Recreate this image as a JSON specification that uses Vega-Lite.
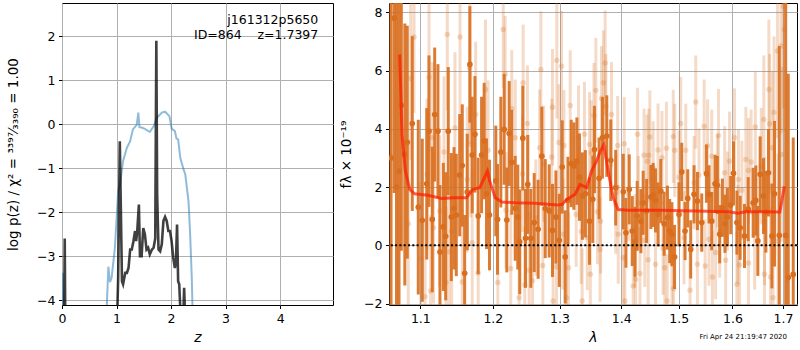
{
"$schema": "https://vega.github.io/schema/vega-lite/v6.json",
"background": "white",
"padding": {"left": 6, "top": 2, "right": 1, "bottom": 0},
"spacing": 5,
"config": {
 "view": {"stroke": "black", "strokeWidth": 1},
 "font": "DejaVu Sans",
 "axis": {"domain": false, "grid": true, "gridColor": "#b0b0b0", "gridWidth": 1, "gridOpacity": 1, "tickColor": "black", "tickSize": 3.5, "tickWidth": 1, "labelFontSize": 12.5, "labelColor": "black", "labelFont": "DejaVu Sans", "titleFont": "DejaVu Sans", "titleFontWeight": "normal", "titleColor": "black", "labelPadding": 3.5, "labelFlush": false, "labelOverlap": false}
},
"datasets": {
 "pz": [
  {"z":0.0,"lp":-4.5,"s":"a"},{"z":0.02,"lp":-3.38,"s":"a"},{"z":0.04,"lp":-4.5,"s":"a"},
  {"z":0.81,"lp":-4.5,"s":"b"},{"z":0.85,"lp":-3.24,"s":"b"},{"z":0.88,"lp":-3.59,"s":"b"},{"z":0.91,"lp":-3.49,"s":"b"},{"z":0.97,"lp":-2.81,"s":"b"},{"z":1.03,"lp":-1.52,"s":"b"},{"z":1.06,"lp":-1.41,"s":"b"},{"z":1.12,"lp":-0.84,"s":"b"},{"z":1.19,"lp":-0.54,"s":"b"},{"z":1.25,"lp":-0.39,"s":"b"},{"z":1.30,"lp":-0.12,"s":"b"},{"z":1.37,"lp":-0.02,"s":"b"},{"z":1.40,"lp":0.26,"s":"b"},{"z":1.42,"lp":-0.07,"s":"b"},{"z":1.46,"lp":-0.08,"s":"b"},{"z":1.52,"lp":-0.11,"s":"b"},{"z":1.61,"lp":-0.18,"s":"b"},{"z":1.68,"lp":-0.05,"s":"b"},{"z":1.74,"lp":0.14,"s":"b"},{"z":1.83,"lp":0.26,"s":"b"},{"z":1.89,"lp":0.28,"s":"b"},{"z":1.97,"lp":0.18,"s":"b"},{"z":2.01,"lp":-0.10,"s":"b"},{"z":2.07,"lp":-0.16,"s":"b"},{"z":2.10,"lp":-0.33,"s":"b"},{"z":2.13,"lp":-0.35,"s":"b"},{"z":2.17,"lp":-0.77,"s":"b"},{"z":2.23,"lp":-1.03,"s":"b"},{"z":2.26,"lp":-1.14,"s":"b"},{"z":2.32,"lp":-1.75,"s":"b"},{"z":2.35,"lp":-2.5,"s":"b"},{"z":2.38,"lp":-3.49,"s":"b"},{"z":2.40,"lp":-4.5,"s":"b"}
 ],
 "chi": [
  {"z":0.04,"lp":-4.5,"s":"a"},{"z":0.05,"lp":-2.6,"s":"a"},{"z":0.06,"lp":-4.5,"s":"a"},
  {"z":1.01,"lp":-4.5,"s":"b"},{"z":1.03,"lp":-3.49,"s":"b"},{"z":1.06,"lp":-0.39,"s":"b"},{"z":1.10,"lp":-3.57,"s":"b"},{"z":1.12,"lp":-3.64,"s":"b"},{"z":1.16,"lp":-3.38,"s":"b"},{"z":1.19,"lp":-3.38,"s":"b"},{"z":1.22,"lp":-3.27,"s":"b"},{"z":1.25,"lp":-2.85,"s":"b"},{"z":1.28,"lp":-2.85,"s":"b"},{"z":1.31,"lp":-2.66,"s":"b"},{"z":1.34,"lp":-2.43,"s":"b"},{"z":1.36,"lp":-2.66,"s":"b"},{"z":1.38,"lp":-2.43,"s":"b"},{"z":1.41,"lp":-1.83,"s":"b"},{"z":1.43,"lp":-3.0,"s":"b"},{"z":1.46,"lp":-3.0,"s":"b"},{"z":1.49,"lp":-2.36,"s":"b"},{"z":1.52,"lp":-2.5,"s":"b"},{"z":1.55,"lp":-2.85,"s":"b"},{"z":1.58,"lp":-2.81,"s":"b"},{"z":1.61,"lp":-2.96,"s":"b"},{"z":1.65,"lp":-2.85,"s":"b"},{"z":1.68,"lp":-2.81,"s":"b"},{"z":1.71,"lp":-2.6,"s":"b"},{"z":1.73,"lp":1.89,"s":"b"},{"z":1.745,"lp":-1.6,"s":"b"},{"z":1.77,"lp":-2.85,"s":"b"},{"z":1.80,"lp":-2.89,"s":"b"},{"z":1.83,"lp":-2.73,"s":"b"},{"z":1.86,"lp":-2.2,"s":"b"},{"z":1.89,"lp":-2.11,"s":"b"},{"z":1.92,"lp":-2.2,"s":"b"},{"z":1.95,"lp":-2.43,"s":"b"},{"z":1.98,"lp":-2.43,"s":"b"},{"z":2.01,"lp":-2.66,"s":"b"},{"z":2.04,"lp":-3.04,"s":"b"},{"z":2.07,"lp":-3.27,"s":"b"},{"z":2.09,"lp":-3.11,"s":"b"},{"z":2.11,"lp":-2.28,"s":"b"},{"z":2.13,"lp":-3.57,"s":"b"},{"z":2.15,"lp":-3.64,"s":"b"},{"z":2.18,"lp":-4.5,"s":"b"},{"z":2.22,"lp":-4.5,"s":"b"},{"z":2.24,"lp":-3.72,"s":"b"},{"z":2.26,"lp":-4.5,"s":"b"}
 ],
 "model": [
  {"l":1.0731,"f":6.55},{"l":1.0761,"f":3.81},{"l":1.0804,"f":2.55},{"l":1.0861,"f":1.92},{"l":1.0926,"f":1.77},{"l":1.1102,"f":1.72},{"l":1.1281,"f":1.61},{"l":1.1464,"f":1.63},{"l":1.1625,"f":1.63},{"l":1.1718,"f":1.92},{"l":1.1813,"f":1.98},{"l":1.1922,"f":2.55},{"l":1.1956,"f":2.2},{"l":1.2035,"f":1.63},{"l":1.2131,"f":1.49},{"l":1.2327,"f":1.46},{"l":1.2624,"f":1.44},{"l":1.2967,"f":1.38},{"l":1.3042,"f":1.41},{"l":1.3117,"f":1.58},{"l":1.3244,"f":1.75},{"l":1.3324,"f":2.09},{"l":1.3430,"f":1.98},{"l":1.3509,"f":2.55},{"l":1.3590,"f":2.89},{"l":1.3644,"f":3.18},{"l":1.3710,"f":3.46},{"l":1.3782,"f":2.55},{"l":1.3865,"f":1.63},{"l":1.3948,"f":1.23},{"l":1.4113,"f":1.20},{"l":1.4686,"f":1.20},{"l":1.5296,"f":1.18},{"l":1.5919,"f":1.15},{"l":1.6111,"f":1.10},{"l":1.6240,"f":1.15},{"l":1.6565,"f":1.15},{"l":1.6937,"f":1.14},{"l":1.7027,"f":2.03}
 ],
 "dark": [
  {"l":1.062,"f":3.0,"e":8},{"l":1.066,"f":7.8,"e":6},{"l":1.069,"f":2.0,"e":7},{"l":1.0722,"f":2.55,"e":6},{"l":1.0752,"f":4.81,"e":5},{"l":1.0797,"f":3.12,"e":4.5},{"l":1.0829,"f":3.54,"e":4.0},{"l":1.0894,"f":4.18,"e":3.0},{"l":1.0973,"f":1.31,"e":3.0},{"l":1.1026,"f":0.86,"e":2.8},{"l":1.1085,"f":2.11,"e":2.6},{"l":1.1115,"f":3.92,"e":2.6},{"l":1.1159,"f":0.89,"e":2.5},{"l":1.1191,"f":4.49,"e":2.3},{"l":1.1235,"f":3.92,"e":2.3},{"l":1.1262,"f":-0.23,"e":2.3},{"l":1.1308,"f":0.63,"e":2.2},{"l":1.1340,"f":0.31,"e":2.2},{"l":1.1375,"f":3.92,"e":2.2},{"l":1.1417,"f":0.97,"e":2.2},{"l":1.1454,"f":1.27,"e":2.1},{"l":1.1485,"f":1.04,"e":2.1},{"l":1.1532,"f":2.41,"e":2.1},{"l":1.1568,"f":2.74,"e":2.1},{"l":1.1601,"f":-0.96,"e":2.0},{"l":1.1637,"f":1.83,"e":2.0},{"l":1.1674,"f":6.21,"e":2.0},{"l":1.1707,"f":3.10,"e":2.0},{"l":1.1745,"f":3.81,"e":2.0},{"l":1.1791,"f":1.01,"e":2.0},{"l":1.1839,"f":3.10,"e":2.0},{"l":1.1876,"f":3.58,"e":2.0},{"l":1.1909,"f":1.77,"e":1.9},{"l":1.1952,"f":1.04,"e":1.9},{"l":1.2043,"f":2.21,"e":1.9},{"l":1.2068,"f":0.89,"e":1.9},{"l":1.2116,"f":3.20,"e":1.9},{"l":1.2165,"f":3.98,"e":1.9},{"l":1.2203,"f":0.87,"e":1.8},{"l":1.2238,"f":3.84,"e":1.8},{"l":1.2276,"f":2.85,"e":1.8},{"l":1.2327,"f":1.27,"e":1.8},{"l":1.2365,"f":0.97,"e":1.8},{"l":1.2394,"f":0.12,"e":1.8},{"l":1.2440,"f":3.68,"e":1.8},{"l":1.2480,"f":0.24,"e":1.7},{"l":1.2514,"f":2.09,"e":1.7},{"l":1.2560,"f":0.24,"e":1.7},{"l":1.2611,"f":0.78,"e":1.7},{"l":1.2671,"f":0.55,"e":1.7},{"l":1.2727,"f":3.06,"e":1.7},{"l":1.2779,"f":1.26,"e":1.7},{"l":1.2840,"f":1.18,"e":1.6},{"l":1.2891,"f":0.51,"e":1.6},{"l":1.2944,"f":0.97,"e":1.6},{"l":1.2997,"f":0.17,"e":1.6},{"l":1.3042,"f":2.69,"e":1.6},{"l":1.3089,"f":-0.40,"e":1.6},{"l":1.3132,"f":1.54,"e":1.5},{"l":1.3184,"f":2.81,"e":1.5},{"l":1.3226,"f":2.72,"e":1.5},{"l":1.3274,"f":2.89,"e":1.5},{"l":1.3315,"f":2.34,"e":1.5},{"l":1.3362,"f":1.69,"e":1.5},{"l":1.3410,"f":1.77,"e":1.5},{"l":1.3477,"f":0.83,"e":1.5},{"l":1.3530,"f":1.58,"e":1.5},{"l":1.3557,"f":3.29,"e":1.5},{"l":1.3633,"f":2.30,"e":1.4},{"l":1.3687,"f":3.69,"e":1.4},{"l":1.3759,"f":3.75,"e":1.4},{"l":1.3825,"f":2.92,"e":1.4},{"l":1.3907,"f":1.98,"e":1.3},{"l":1.4034,"f":1.84,"e":1.3},{"l":1.4079,"f":0.43,"e":1.2},{"l":1.4135,"f":1.92,"e":1.2},{"l":1.4186,"f":0.49,"e":1.2},{"l":1.4232,"f":0.12,"e":1.2},{"l":1.4271,"f":1.01,"e":1.2},{"l":1.4334,"f":0.83,"e":1.1},{"l":1.4373,"f":1.46,"e":1.1},{"l":1.4433,"f":1.18,"e":1.1},{"l":1.4507,"f":1.66,"e":1.1},{"l":1.4547,"f":1.73,"e":1.1},{"l":1.4588,"f":1.54,"e":1.1},{"l":1.4634,"f":1.06,"e":1.1},{"l":1.4680,"f":1.86,"e":1.1},{"l":1.4739,"f":0.74,"e":1.1},{"l":1.4798,"f":0.95,"e":1.1},{"l":1.4838,"f":0.49,"e":1.1},{"l":1.4878,"f":0.38,"e":1.1},{"l":1.4925,"f":-0.40,"e":1.1},{"l":1.5005,"f":1.06,"e":1.1},{"l":1.5054,"f":2.52,"e":1.0},{"l":1.5114,"f":0.49,"e":1.0},{"l":1.5163,"f":1.61,"e":1.0},{"l":1.5217,"f":-0.14,"e":1.0},{"l":1.5278,"f":1.75,"e":1.0},{"l":1.5340,"f":1.52,"e":1.0},{"l":1.5420,"f":0.78,"e":1.0},{"l":1.5507,"f":2.46,"e":1.0},{"l":1.5555,"f":1.75,"e":1.0},{"l":1.5606,"f":0.83,"e":1.0},{"l":1.5668,"f":2.11,"e":1.0},{"l":1.5712,"f":2.07,"e":1.0},{"l":1.5756,"f":0.38,"e":1.0},{"l":1.5807,"f":1.29,"e":1.0},{"l":1.5856,"f":0.74,"e":1.0},{"l":1.5902,"f":0.97,"e":1.0},{"l":1.5965,"f":1.38,"e":1.0},{"l":1.6019,"f":2.47,"e":1.1},{"l":1.6085,"f":0.78,"e":1.1},{"l":1.6148,"f":0.60,"e":1.1},{"l":1.6232,"f":0.32,"e":1.1},{"l":1.6304,"f":1.24,"e":1.1},{"l":1.6402,"f":1.46,"e":1.2},{"l":1.6455,"f":1.54,"e":1.2},{"l":1.6494,"f":0.15,"e":1.2},{"l":1.6540,"f":2.44,"e":1.3},{"l":1.6606,"f":1.69,"e":1.3},{"l":1.6654,"f":1.15,"e":1.4},{"l":1.6706,"f":2.49,"e":1.5},{"l":1.6775,"f":0.32,"e":1.8},{"l":1.6828,"f":1.77,"e":2.5},{"l":1.6924,"f":0.34,"e":6.5},{"l":1.7055,"f":0.34,"e":8},{"l":1.7108,"f":-1.11,"e":7},{"l":1.721,"f":-1.0,"e":4.7}
 ],
 "light": [
  {"l":1.0917,"f":7.15,"e":2.6},{"l":1.1362,"f":7.24,"e":2.6},{"l":1.1537,"f":7.15,"e":2.6},{"l":1.1672,"f":6.09,"e":2.6},{"l":1.0874,"f":5.73,"e":2.8},{"l":1.1115,"f":5.77,"e":2.6},{"l":1.1895,"f":5.35,"e":2.4},{"l":1.1159,"f":3.69,"e":2.6},{"l":1.1317,"f":3.20,"e":2.6},{"l":1.1467,"f":4.03,"e":2.6},{"l":1.1686,"f":3.46,"e":2.5},{"l":1.1755,"f":4.49,"e":2.5},{"l":1.1932,"f":3.26,"e":2.4},{"l":1.1637,"f":2.26,"e":2.5},{"l":1.1089,"f":2.44,"e":2.6},{"l":1.0842,"f":0.74,"e":2.8},{"l":1.1175,"f":0.60,"e":2.6},{"l":1.1422,"f":0.49,"e":2.6},{"l":1.1707,"f":0.09,"e":2.5},{"l":1.1385,"f":-0.22,"e":2.6},{"l":1.1005,"f":-0.45,"e":2.6},{"l":1.1791,"f":-0.95,"e":2.5},{"l":1.1568,"f":-1.26,"e":2.5},{"l":1.1345,"f":-1.28,"e":2.6},{"l":1.1137,"f":-1.57,"e":2.6},{"l":1.1062,"f":-1.77,"e":2.6},{"l":1.1259,"f":1.18,"e":2.6},
  {"l":1.2151,"f":7.41,"e":2.0},{"l":1.2179,"f":5.87,"e":2.0},{"l":1.2712,"f":6.04,"e":2.0},{"l":1.2958,"f":6.35,"e":2.0},{"l":1.3031,"f":6.15,"e":1.9},{"l":1.2445,"f":5.58,"e":2.0},{"l":1.2276,"f":4.70,"e":2.0},{"l":1.2891,"f":4.74,"e":2.0},{"l":1.3168,"f":4.80,"e":1.9},{"l":1.2509,"f":4.18,"e":2.0},{"l":1.3547,"f":4.46,"e":1.8},{"l":1.2327,"f":3.69,"e":2.0},{"l":1.2693,"f":3.35,"e":2.0},{"l":1.2880,"f":3.03,"e":2.0},{"l":1.2756,"f":2.80,"e":2.0},{"l":1.2991,"f":3.53,"e":2.0},{"l":1.3069,"f":3.43,"e":1.9},{"l":1.3300,"f":3.69,"e":1.8},{"l":1.3396,"f":3.81,"e":1.8},{"l":1.3477,"f":3.46,"e":1.8},{"l":1.3504,"f":3.18,"e":1.8},{"l":1.2191,"f":1.20,"e":2.0},{"l":1.2435,"f":2.46,"e":2.0},{"l":1.2636,"f":0.95,"e":2.0},{"l":1.3263,"f":1.06,"e":1.8},{"l":1.3343,"f":0.47,"e":1.8},{"l":1.3440,"f":0.26,"e":1.8},{"l":1.3053,"f":0.38,"e":1.9},{"l":1.2261,"f":-0.80,"e":2.0},{"l":1.2535,"f":-0.86,"e":2.0},{"l":1.2742,"f":-0.69,"e":2.0},{"l":1.2953,"f":-0.74,"e":2.0},{"l":1.3141,"f":-0.77,"e":1.9},{"l":1.2072,"f":-1.28,"e":2.0},{"l":1.2469,"f":-1.36,"e":2.0},{"l":1.2385,"f":-1.80,"e":2.0},{"l":1.2585,"f":-1.22,"e":2.0},{"l":1.3358,"f":-1.91,"e":1.8},{"l":1.3490,"f":-0.99,"e":1.8},{"l":1.2901,"f":-1.91,"e":2.0},{"l":1.3108,"f":-1.80,"e":1.9},
  {"l":1.3732,"f":6.26,"e":1.8},{"l":1.3704,"f":5.58,"e":1.8},{"l":1.3672,"f":5.04,"e":1.8},{"l":1.3743,"f":4.77,"e":1.8},{"l":1.3837,"f":4.49,"e":1.8},{"l":1.3580,"f":5.32,"e":1.8},{"l":1.5309,"f":4.92,"e":1.6},{"l":1.4277,"f":3.81,"e":1.6},{"l":1.4489,"f":3.72,"e":1.6},{"l":1.4902,"f":3.74,"e":1.6},{"l":1.5036,"f":4.18,"e":1.6},{"l":1.3940,"f":3.43,"e":1.7},{"l":1.4050,"f":3.49,"e":1.6},{"l":1.4389,"f":3.09,"e":1.6},{"l":1.4470,"f":3.09,"e":1.6},{"l":1.4632,"f":3.27,"e":1.6},{"l":1.4702,"f":3.01,"e":1.6},{"l":1.4780,"f":3.33,"e":1.6},{"l":1.4928,"f":3.26,"e":1.6},{"l":1.5127,"f":3.26,"e":1.6},{"l":1.4440,"f":2.89,"e":1.6},{"l":1.4547,"f":2.66,"e":1.6},{"l":1.5005,"f":2.34,"e":1.6},{"l":1.5369,"f":2.41,"e":1.6},{"l":1.5278,"f":2.15,"e":1.6},{"l":1.4118,"f":1.75,"e":1.6},{"l":1.4291,"f":1.46,"e":1.6},{"l":1.3907,"f":1.41,"e":1.7},{"l":1.3606,"f":1.15,"e":1.8},{"l":1.3657,"f":0.83,"e":1.8},{"l":1.3950,"f":0.38,"e":1.7},{"l":1.4232,"f":0.15,"e":1.6},{"l":1.4401,"f":0.17,"e":1.6},{"l":1.4720,"f":-0.10,"e":1.6},{"l":1.5096,"f":0.26,"e":1.6},{"l":1.3649,"f":-0.14,"e":1.8},{"l":1.4034,"f":-0.43,"e":1.6},{"l":1.4460,"f":-0.50,"e":1.6},{"l":1.4588,"f":-0.65,"e":1.6},{"l":1.4751,"f":-0.77,"e":1.6},{"l":1.4878,"f":-0.60,"e":1.6},{"l":1.5340,"f":-0.65,"e":1.6},{"l":1.4244,"f":-1.17,"e":1.6},{"l":1.4318,"f":-0.97,"e":1.6},{"l":1.4203,"f":-1.40,"e":1.6},{"l":1.4908,"f":-1.48,"e":1.6},{"l":1.5205,"f":-1.54,"e":1.6},{"l":1.4062,"f":-1.91,"e":1.6},{"l":1.4795,"f":-1.91,"e":1.6},
  {"l":1.7027,"f":7.41,"e":3.5},{"l":1.7006,"f":8.2,"e":3.5},{"l":1.6889,"f":6.67,"e":3.0},{"l":1.6959,"f":6.84,"e":3.0},{"l":1.6714,"f":5.35,"e":2.4},{"l":1.6818,"f":4.57,"e":2.6},{"l":1.6613,"f":4.32,"e":2.2},{"l":1.6445,"f":4.06,"e":1.9},{"l":1.6728,"f":4.17,"e":2.4},{"l":1.5465,"f":4.09,"e":1.6},{"l":1.5733,"f":3.77,"e":1.6},{"l":1.6038,"f":3.69,"e":1.7},{"l":1.5528,"f":3.41,"e":1.6},{"l":1.5606,"f":3.06,"e":1.6},{"l":1.5943,"f":2.89,"e":1.7},{"l":1.6259,"f":2.95,"e":1.8},{"l":1.6362,"f":2.86,"e":1.8},{"l":1.6785,"f":3.35,"e":2.6},{"l":1.6973,"f":3.12,"e":3.0},{"l":1.5849,"f":2.49,"e":1.6},{"l":1.6310,"f":2.57,"e":1.8},{"l":1.6115,"f":2.26,"e":1.7},{"l":1.6562,"f":2.72,"e":2.0},{"l":1.5712,"f":2.21,"e":1.6},{"l":1.6181,"f":1.89,"e":1.7},{"l":1.5902,"f":1.52,"e":1.7},{"l":1.6627,"f":0.83,"e":2.2},{"l":1.5756,"f":0.49,"e":1.6},{"l":1.5555,"f":0.21,"e":1.6},{"l":1.6103,"f":0.38,"e":1.7},{"l":1.6431,"f":0.38,"e":1.9},{"l":1.6900,"f":0.15,"e":3.0},{"l":1.5483,"f":-0.71,"e":1.6},{"l":1.5869,"f":-0.51,"e":1.6},{"l":1.5679,"f":-0.25,"e":1.6},{"l":1.6135,"f":-0.68,"e":1.7},{"l":1.6310,"f":-0.61,"e":1.8},{"l":1.6627,"f":-0.99,"e":2.2},{"l":1.6746,"f":-1.09,"e":2.4},{"l":1.5619,"f":-1.09,"e":1.6},{"l":1.6085,"f":-1.34,"e":1.7},{"l":1.6798,"f":-1.80,"e":2.6}
 ]
},
"hconcat": [
 {
  "width": 271, "height": 302,
  "layer": [
   {
    "data": {"name": "pz"},
    "mark": {"type": "line", "clip": true, "color": "#1f77b4", "opacity": 0.5, "strokeWidth": 2},
    "encoding": {
     "x": {"field": "z", "type": "quantitative", "scale": {"domain": [0, 4.97], "nice": false, "zero": false}, "axis": {"values": [0,1,2,3,4], "format": "d", "title": "z", "titleFontStyle": "italic", "titleFontSize": 14, "titlePadding": 6}},
     "y": {"field": "lp", "type": "quantitative", "scale": {"domain": [-4.11, 2.75], "nice": false, "zero": false}, "axis": {"values": [-4,-3,-2,-1,0,1,2], "format": "d", "title": "log p(z) / χ² = ³³⁹⁷⁄₃₃₉₀ = 1.00", "titleFontSize": 13.5, "titlePadding": 16}},
     "detail": {"field": "s", "type": "nominal"}
    }
   },
   {
    "data": {"name": "chi"},
    "mark": {"type": "line", "clip": true, "color": "#000000", "opacity": 0.75, "strokeWidth": 2.6},
    "encoding": {
     "x": {"field": "z", "type": "quantitative", "scale": {"domain": [0, 4.97], "nice": false, "zero": false}, "axis": {"values": [0,1,2,3,4], "format": "d", "title": "z", "titleFontStyle": "italic", "titleFontSize": 14, "titlePadding": 6}},
     "y": {"field": "lp", "type": "quantitative", "scale": {"domain": [-4.11, 2.75], "nice": false, "zero": false}, "axis": {"values": [-4,-3,-2,-1,0,1,2], "format": "d", "title": "log p(z) / χ² = ³³⁹⁷⁄₃₃₉₀ = 1.00", "titleFontSize": 13.5, "titlePadding": 16}},
     "detail": {"field": "s", "type": "nominal"}
    }
   },
   {
    "data": {"values": [{}]},
    "mark": {"type": "text", "text": "j161312p5650\nID=864\u00a0\u00a0\u00a0\u00a0z=1.7397", "lineBreak": "\n", "align": "right", "baseline": "middle", "lineHeight": 15, "fontSize": 12.5, "color": "black"},
    "encoding": {
     "x": {"datum": 4.70, "type": "quantitative", "scale": {"domain": [0, 4.97], "nice": false, "zero": false}, "axis": {"values": [0,1,2,3,4], "format": "d", "title": "z", "titleFontStyle": "italic", "titleFontSize": 14, "titlePadding": 6}},
     "y": {"datum": 2.36, "type": "quantitative", "scale": {"domain": [-4.11, 2.75], "nice": false, "zero": false}, "axis": {"values": [-4,-3,-2,-1,0,1,2], "format": "d", "title": "log p(z) / χ² = ³³⁹⁷⁄₃₃₉₀ = 1.00", "titleFontSize": 13.5, "titlePadding": 16}}
    }
   }
  ]
 },
 {
  "width": 408, "height": 302,
  "title": {"text": "Fri Apr 24 21:19:47 2020", "orient": "bottom", "anchor": "end", "fontSize": 7, "fontWeight": "normal", "color": "black", "dy": -16, "dx": -11},
  "layer": [
   {
    "data": {"name": "light"},
    "mark": {"type": "errorbar", "clip": true, "color": "#d86e1e", "opacity": 0.25, "thickness": 3},
    "encoding": {
     "x": {"field": "l", "type": "quantitative", "scale": {"type": "log", "domain": [1.0594, 1.7288], "nice": false, "zero": false}, "axis": {"values": [1.1,1.2,1.3,1.4,1.5,1.6,1.7], "format": ".1f", "title": "λ", "titleFontStyle": "italic", "titleFontSize": 14, "titlePadding": 6}},
     "y": {"field": "f", "type": "quantitative", "scale": {"domain": [-2.05, 8.32], "nice": false, "zero": false}, "axis": {"values": [-2,0,2,4,6,8], "format": "d", "title": "fλ × 10⁻¹⁹", "titleFontSize": 13.5, "titlePadding": 10}},
     "yError": {"field": "e"}
    }
   },
   {
    "data": {"name": "light"},
    "mark": {"type": "circle", "clip": true, "color": "#d86e1e", "opacity": 0.25, "size": 30},
    "encoding": {
     "x": {"field": "l", "type": "quantitative", "scale": {"type": "log", "domain": [1.0594, 1.7288], "nice": false, "zero": false}, "axis": {"values": [1.1,1.2,1.3,1.4,1.5,1.6,1.7], "format": ".1f", "title": "λ", "titleFontStyle": "italic", "titleFontSize": 14, "titlePadding": 6}},
     "y": {"field": "f", "type": "quantitative", "scale": {"domain": [-2.05, 8.32], "nice": false, "zero": false}, "axis": {"values": [-2,0,2,4,6,8], "format": "d", "title": "fλ × 10⁻¹⁹", "titleFontSize": 13.5, "titlePadding": 10}}
    }
   },
   {
    "data": {"name": "dark"},
    "mark": {"type": "errorbar", "clip": true, "color": "#d86e1e", "opacity": 0.9, "thickness": 3},
    "encoding": {
     "x": {"field": "l", "type": "quantitative", "scale": {"type": "log", "domain": [1.0594, 1.7288], "nice": false, "zero": false}, "axis": {"values": [1.1,1.2,1.3,1.4,1.5,1.6,1.7], "format": ".1f", "title": "λ", "titleFontStyle": "italic", "titleFontSize": 14, "titlePadding": 6}},
     "y": {"field": "f", "type": "quantitative", "scale": {"domain": [-2.05, 8.32], "nice": false, "zero": false}, "axis": {"values": [-2,0,2,4,6,8], "format": "d", "title": "fλ × 10⁻¹⁹", "titleFontSize": 13.5, "titlePadding": 10}},
     "yError": {"field": "e"}
    }
   },
   {
    "data": {"name": "dark"},
    "mark": {"type": "circle", "clip": true, "color": "#d86e1e", "opacity": 1, "size": 32},
    "encoding": {
     "x": {"field": "l", "type": "quantitative", "scale": {"type": "log", "domain": [1.0594, 1.7288], "nice": false, "zero": false}, "axis": {"values": [1.1,1.2,1.3,1.4,1.5,1.6,1.7], "format": ".1f", "title": "λ", "titleFontStyle": "italic", "titleFontSize": 14, "titlePadding": 6}},
     "y": {"field": "f", "type": "quantitative", "scale": {"domain": [-2.05, 8.32], "nice": false, "zero": false}, "axis": {"values": [-2,0,2,4,6,8], "format": "d", "title": "fλ × 10⁻¹⁹", "titleFontSize": 13.5, "titlePadding": 10}}
    }
   },
   {
    "data": {"name": "model"},
    "mark": {"type": "line", "clip": true, "color": "#ff1a00", "opacity": 0.7, "strokeWidth": 3},
    "encoding": {
     "x": {"field": "l", "type": "quantitative", "scale": {"type": "log", "domain": [1.0594, 1.7288], "nice": false, "zero": false}, "axis": {"values": [1.1,1.2,1.3,1.4,1.5,1.6,1.7], "format": ".1f", "title": "λ", "titleFontStyle": "italic", "titleFontSize": 14, "titlePadding": 6}},
     "y": {"field": "f", "type": "quantitative", "scale": {"domain": [-2.05, 8.32], "nice": false, "zero": false}, "axis": {"values": [-2,0,2,4,6,8], "format": "d", "title": "fλ × 10⁻¹⁹", "titleFontSize": 13.5, "titlePadding": 10}}
    }
   },
   {
    "data": {"values": [{}]},
    "mark": {"type": "rule", "color": "black", "strokeWidth": 2, "strokeDash": [2, 2.3]},
    "encoding": {
     "y": {"datum": 0, "type": "quantitative", "scale": {"domain": [-2.05, 8.32], "nice": false, "zero": false}, "axis": {"values": [-2,0,2,4,6,8], "format": "d", "title": "fλ × 10⁻¹⁹", "titleFontSize": 13.5, "titlePadding": 10}}
    }
   }
  ]
 }
]
}
